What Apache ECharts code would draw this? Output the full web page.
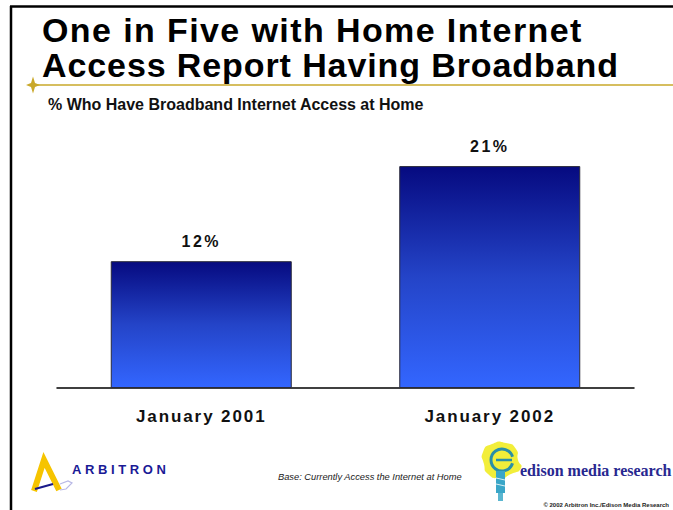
<!DOCTYPE html>
<html>
<head>
<meta charset="utf-8">
<script src="https://cdn.jsdelivr.net/npm/echarts@6/dist/echarts.min.js"></script>
<style>
  html, body { margin: 0; padding: 0; background: #fff; }
  #chart { width: 673px; height: 510px; }
</style>
</head>
<body>
<div id="chart"></div>
<script>
// Broadband share among home internet users
const categories = ['January 2001', 'January 2002'];
const broadbandShare = [12, 21];
const titleLines = ['One in Five with Home Internet', 'Access Report Having Broadband'];
const subtitle = '% Who Have Broadband Internet Access at Home';
const baseNote = 'Base: Currently Access the Internet at Home';
const copyright = '\u00A9 2002 Arbitron Inc./Edison Media Research';

// extra tracking for spaced-out texts (applied to the SVG text nodes)
const tracking = {
  'One in Five with Home Internet': 1.4,
  'Access Report Having Broadband': 0.9,
  'January 2001': 1.9, 'January 2002': 1.9,
  '12%': 2.5, '21%': 2.5,
  'ARBITRON': 3.6
};

const chart = echarts.init(document.getElementById('chart'), null, { renderer: 'svg' });

const SANS = "'Liberation Sans', Arial, sans-serif";
const SERIF = "'Liberation Serif', 'Times New Roman', serif";
const GOLD = '#c9a82a';

const graphics = [
  // frame
  { type: 'line', shape: { x1: 10, y1: 6.5, x2: 673, y2: 6.5 }, style: { stroke: '#000', lineWidth: 2.5 }, silent: true },
  { type: 'line', shape: { x1: 11, y1: 6, x2: 11, y2: 510 }, style: { stroke: '#000', lineWidth: 2.5 }, silent: true },
  // gold rule under the heading with its star
  { type: 'line', shape: { x1: 33, y1: 85, x2: 673, y2: 85 }, style: { stroke: GOLD, lineWidth: 1.5 }, silent: true },
  { type: 'polygon', shape: { points: [[33, 76.5], [35, 83], [40, 85], [35, 87], [33, 93.5], [31, 87], [26, 85], [31, 83]] },
    style: { fill: GOLD }, silent: true },
  // heading
  { type: 'text', x: 42, y: 30.2, style: { text: titleLines[0], font: "bold 34px " + SANS, fill: '#000', verticalAlign: 'middle' }, silent: true },
  { type: 'text', x: 42, y: 65.2, style: { text: titleLines[1], font: "bold 34px " + SANS, fill: '#000', verticalAlign: 'middle' }, silent: true },
  { type: 'text', x: 48, y: 104, style: { text: subtitle, font: "bold 16px " + SANS, fill: '#111', verticalAlign: 'middle' }, silent: true },
  // footnote
  { type: 'text', x: 278, y: 477, style: { text: baseNote, font: "italic 9.3px " + SANS, fill: '#222', verticalAlign: 'middle' }, silent: true },
  { type: 'text', x: 669, y: 505, style: { text: copyright, font: "bold 6px " + SANS, fill: '#222', align: 'right', verticalAlign: 'middle' }, silent: true },
  // Arbitron mark
  { type: 'polyline', shape: { points: [[34, 491], [44, 460], [59, 490]] }, style: { stroke: '#f6c400', lineWidth: 6, lineJoin: 'miter', fill: null }, silent: true },
  { type: 'polyline', shape: { points: [[60, 484], [68, 481], [72, 483], [66, 489], [60, 490]] }, style: { stroke: '#b8b8e6', lineWidth: 1.2, fill: null }, silent: true },
  { type: 'line', shape: { x1: 35, y1: 489, x2: 53, y2: 484 }, style: { stroke: '#1a1a8a', lineWidth: 2.2 }, silent: true },
  { type: 'text', x: 72, y: 469, style: { text: 'ARBITRON', font: "bold 13px " + SANS, fill: '#1a1a96', verticalAlign: 'middle' }, silent: true },
  // Edison mark: yellow cloud, bulb outline, stem
  { type: 'polygon', shape: { smooth: 0.7, points: [[492, 444], [506, 443], [516, 449], [518, 460], [521, 468], [511, 474], [500, 478], [488, 474], [484, 464], [483, 452]] },
    style: { fill: '#f2ee3a' }, silent: true },
  { type: 'arc', shape: { cx: 502, cy: 460, r: 11, startAngle: 0.3, endAngle: Math.PI * 2 - 0.3 }, style: { stroke: '#2a8fa8', lineWidth: 3, fill: null }, silent: true },
  { type: 'line', shape: { x1: 496, y1: 460, x2: 512, y2: 460 }, style: { stroke: '#2a8fa8', lineWidth: 2.5 }, silent: true },
  { type: 'rect', shape: { x: 496, y: 471, width: 9, height: 22 }, style: { fill: '#3aa6c8' }, silent: true },
  { type: 'line', shape: { x1: 496, y1: 478, x2: 505, y2: 480 }, style: { stroke: '#d8f0f4', lineWidth: 1 }, silent: true },
  { type: 'line', shape: { x1: 496, y1: 484, x2: 505, y2: 486 }, style: { stroke: '#d8f0f4', lineWidth: 1 }, silent: true },
  { type: 'rect', shape: { x: 498, y: 493, width: 5, height: 8 }, style: { fill: '#5ab6d0' }, silent: true },
  { type: 'text', x: 520, y: 470, style: { text: 'edison media research', font: "bold 16px " + SERIF, fill: '#282890', verticalAlign: 'middle' }, silent: true }
];

chart.setOption({
  animation: false,
  backgroundColor: '#ffffff',
  grid: { left: 57, right: 39, top: 71, bottom: 122 },
  xAxis: {
    type: 'category',
    data: categories,
    axisLine: { lineStyle: { color: '#000', width: 1.5 } },
    axisTick: { show: false },
    axisLabel: { margin: 20, color: '#111', fontFamily: SANS, fontWeight: 'bold', fontSize: 17 }
  },
  yAxis: {
    type: 'value', min: 0, max: 30, show: false,
    splitLine: { show: false }
  },
  series: [{
    type: 'bar',
    data: broadbandShare,
    barWidth: 181,
    itemStyle: {
      borderColor: '#2a2a3a',
      borderWidth: 1,
      color: new echarts.graphic.LinearGradient(0, 0, 0, 1, [
        { offset: 0, color: '#060a80' },
        { offset: 0.5, color: '#2444c8' },
        { offset: 1, color: '#3366ff' }
      ])
    },
    label: {
      show: true,
      position: 'top',
      distance: 12,
      formatter: p => p.value + '%',
      color: '#111', fontFamily: SANS, fontWeight: 'bold', fontSize: 16
    }
  }],
  graphic: graphics
});

function applyTracking() {
  document.querySelectorAll('#chart svg text').forEach(t => {
    const s = tracking[t.textContent.trim()];
    if (s) t.setAttribute('letter-spacing', s + 'px');
  });
}
applyTracking();
chart.on('finished', applyTracking);
</script>
</body>
</html>
